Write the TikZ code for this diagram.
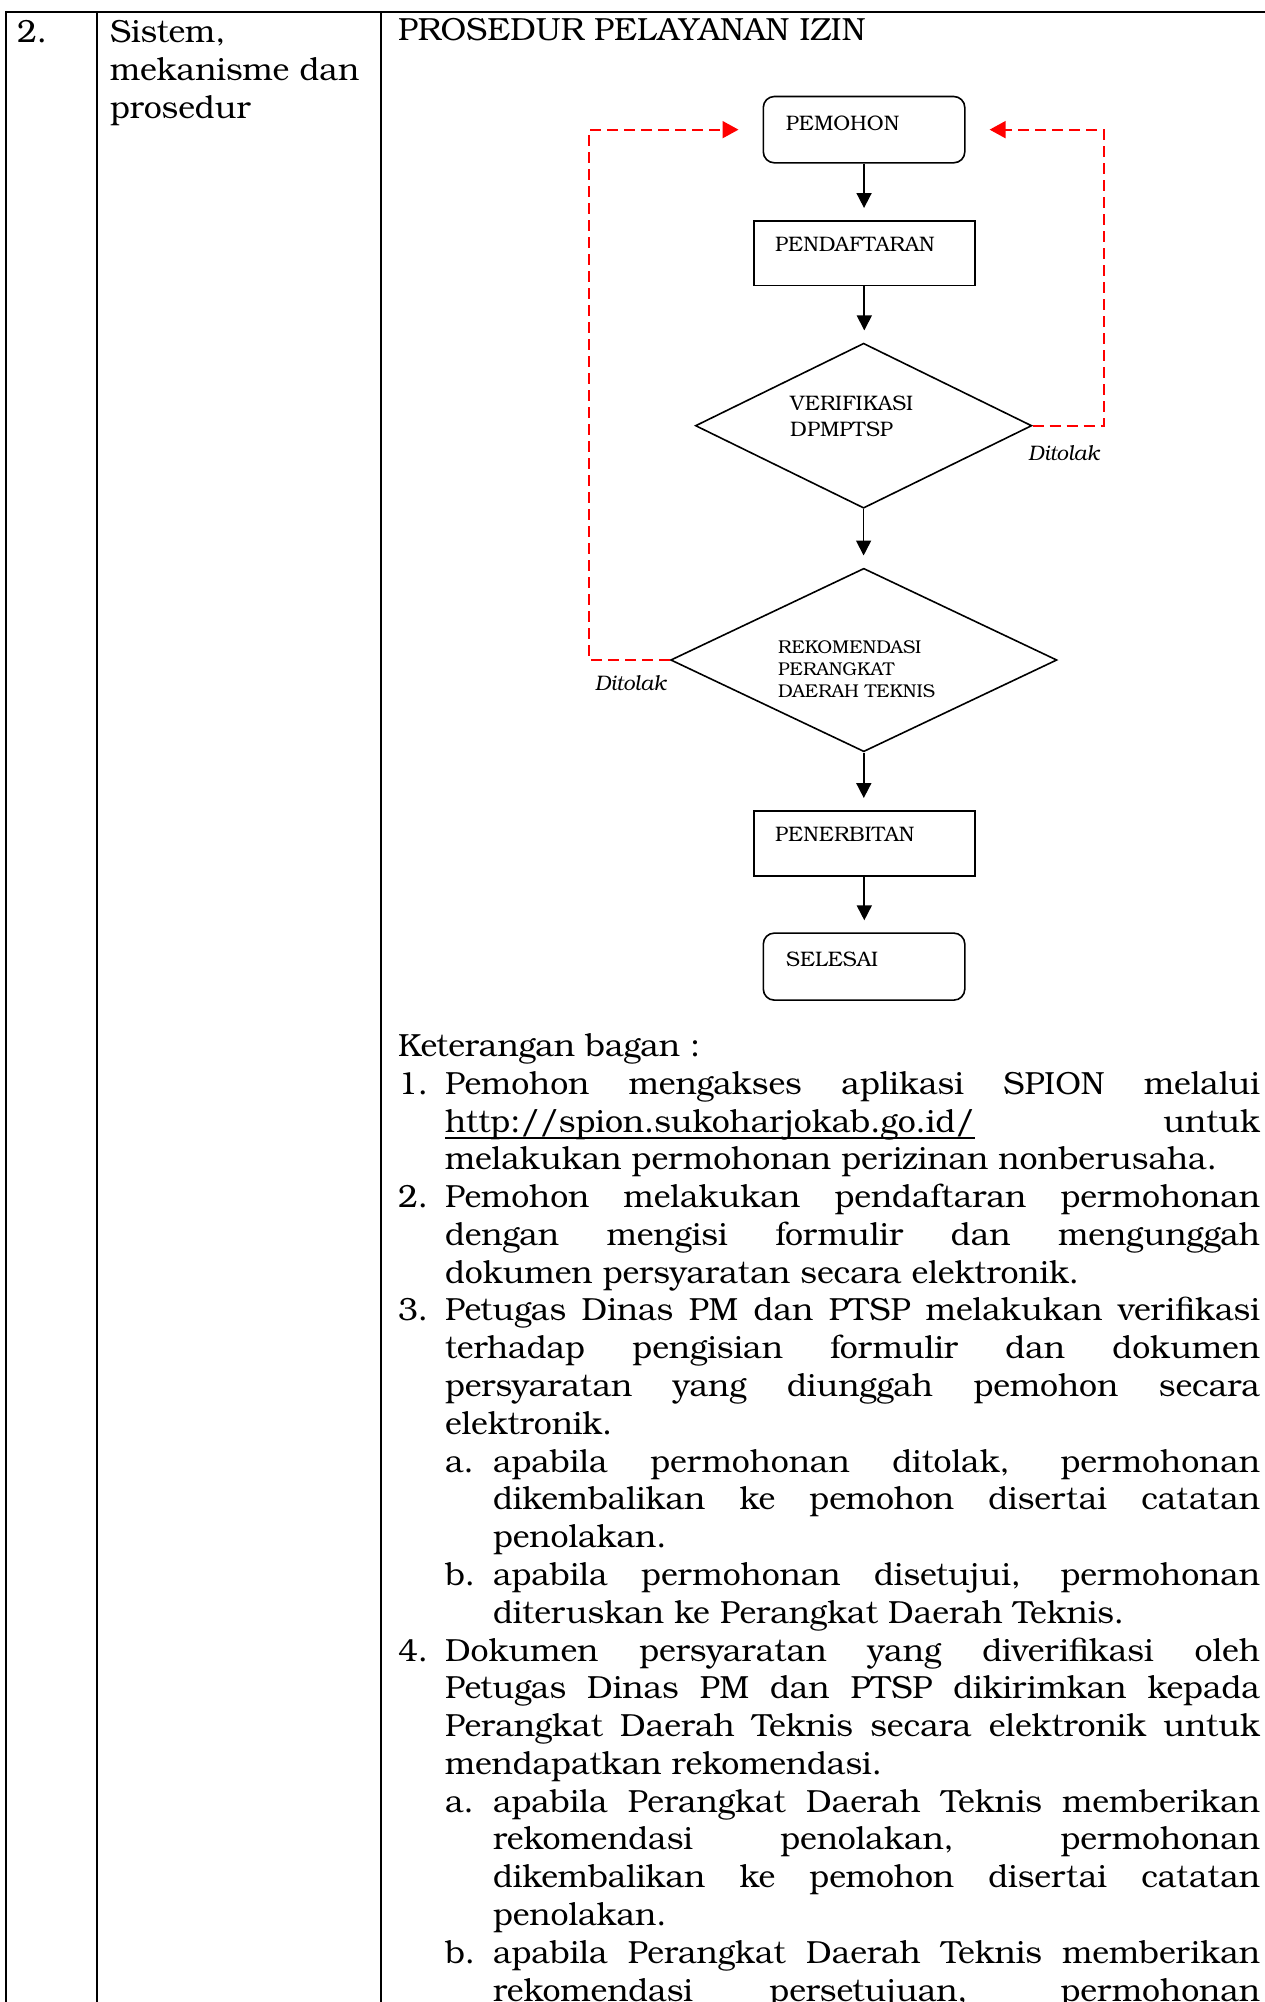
\documentclass[tikz,border=0pt]{standalone}
\usepackage{fontspec}
\setmainfont{texgyrebonum-regular.otf}[ItalicFont=texgyrebonum-italic.otf,BoldFont=texgyrebonum-bold.otf,BoldItalicFont=texgyrebonum-bolditalic.otf]
\usetikzlibrary{shapes.geometric,arrows.meta}
% baseline of the k-th line of the legend
\newcommand\ly[1]{1056.5+37.78*#1}
% a justified line of given width
\newcommand\jl[2]{\makebox[#1][s]{#2}}

\begin{document}
\begin{tikzpicture}[x=1pt,y=-1pt,
  body/.style={font=\fontsize{32}{37.78}\selectfont},
  txt/.style={anchor=base west, inner sep=0pt, outer sep=0pt, body},
  txtr/.style={txt, anchor=base east},
  rule/.style={line width=2pt, black},
  boxlbl/.style={anchor=base west, inner sep=0pt, font=\fontsize{21}{26}\selectfont},
  smalllbl/.style={anchor=base west, inner sep=0pt, font=\fontsize{18.5}{22}\selectfont},
  notelbl/.style={anchor=base west, inner sep=0pt, font=\fontsize{21}{26}\selectfont\itshape},
  proc/.style={draw, line width=1.6pt, inner sep=0pt, anchor=north west},
  term/.style={proc, rounded corners=11pt},
  decide/.style={draw, diamond, line width=1.6pt, inner sep=0pt},
  flow/.style={line width=1.7pt, -{Triangle[length=15pt,width=15pt]}, shorten >=12pt},
  reject/.style={red, line width=1.9pt, dash pattern=on 11pt off 6pt,
                 -{Triangle[length=16pt,width=17pt]}, shorten >=24pt},
  ]
\useasboundingbox (0,0) rectangle (1264,2002);
\fill[white] (0,0) rectangle (1264,2002);

% table rules
\draw[rule] (6,12) -- (1270,12);
\draw[rule] (6,11) -- (6,2010);
\draw[rule] (96.7,12) -- (96.7,2010);
\draw[rule] (381,12) -- (381,2010);

% header cells
\node[txt] (num) at (17,43) {2.};
\node[txt] (h1) at (110,43) {Sistem,};
\node[txt] (h2) at (110,80.8) {mekanisme dan};
\node[txt] (h3) at (110,118.6) {prosedur};
\node[txt] (title) at (398,41) {PROSEDUR PELAYANAN IZIN};

% flowchart shapes
\node[term, minimum width=201.5pt, minimum height=66.3pt] (pemohon) at (762.5,95.7) {};
\node[proc, minimum width=221pt, minimum height=64.7pt] (daftar) at (753,220) {};
\node[decide, minimum width=336.4pt, minimum height=165pt] (verif) at (863.6,425.7) {};
\node[decide, minimum width=386.3pt, minimum height=183.4pt] (rekom) at (863.8,660) {};
\node[proc, minimum width=221pt, minimum height=65pt] (terbit) at (753,810) {};
\node[term, minimum width=201.5pt, minimum height=67pt] (selesai) at (762.5,932.3) {};

% flowchart texts
\node[boxlbl] (tPemohon) at (785.7,130) {PEMOHON};
\node[boxlbl] (tDaftar) at (775,251.7) {PENDAFTARAN};
\node[boxlbl] (tVerA) at (790,410) {VERIFIKASI};
\node[boxlbl] (tVerB) at (790,436.7) {DPMPTSP};
\node[smalllbl] (tRekA) at (778,653) {REKOMENDASI};
\node[smalllbl] (tRekB) at (778,675) {PERANGKAT};
\node[smalllbl] (tRekC) at (778,697) {DAERAH TEKNIS};
\node[boxlbl] (tTerbit) at (775,841.7) {PENERBITAN};
\node[boxlbl] (tSelesai) at (786,966) {SELESAI};

% main flow
\draw[flow] (pemohon.south) -- (pemohon.south |- daftar.north);
\draw[flow] (daftar.south) -- (daftar.south |- verif.north);
\draw[flow] (verif.south) -- (verif.south |- rekom.north);
\draw[flow] (rekom.south) -- (rekom.south |- terbit.north);
\draw[flow] (terbit.south) -- (terbit.south |- selesai.north);

% rejection loops back to the applicant
\coordinate (lbend) at (589.3,660);
\coordinate (rbend) at (1103.6,425.7);
\draw[reject] (rekom.west) -- (lbend) |- (pemohon.west);
\draw[reject] (verif.east) -- (rbend) |- (pemohon.east);
\node[notelbl] (dRight) at (1028,460) {Ditolak};
\node[notelbl] (dLeft) at (594.6,690) {Ditolak};

% legend
\node[txt] (l0) at (398,{\ly{0}}) {Keterangan bagan :};

\node[txt] (n1) at (398,{\ly{1}}) {1.};
\node[txt] (l1) at (445,{\ly{1}}) {\jl{815pt}{Pemohon mengakses aplikasi SPION melalui}};
\node[txt] (url) at (445,{\ly{2}}) {http://spion.sukoharjokab.go.id/};
\draw[line width=1.5pt] ([yshift=-6pt]url.base west) -- ([yshift=-6pt]url.base east);
\node[txtr] (l2) at (1260,{\ly{2}}) {untuk};
\node[txt] (l3) at (445,{\ly{3}}) {melakukan permohonan perizinan nonberusaha.};

\node[txt] (n2) at (398,{\ly{4}}) {2.};
\node[txt] (l4) at (445,{\ly{4}}) {\jl{815pt}{Pemohon melakukan pendaftaran permohonan}};
\node[txt] (l5) at (445,{\ly{5}}) {\jl{815pt}{dengan mengisi formulir dan mengunggah}};
\node[txt] (l6) at (445,{\ly{6}}) {dokumen persyaratan secara elektronik.};

\node[txt] (n3) at (398,{\ly{7}}) {3.};
\node[txt] (l7) at (445,{\ly{7}}) {\jl{815pt}{Petugas Dinas PM dan PTSP melakukan verifikasi}};
\node[txt] (l8) at (445,{\ly{8}}) {\jl{815pt}{terhadap pengisian formulir dan dokumen}};
\node[txt] (l9) at (445,{\ly{9}}) {\jl{815pt}{persyaratan yang diunggah pemohon secara}};
\node[txt] (l10) at (445,{\ly{10}}) {elektronik.};

\node[txt] (s3a) at (445,{\ly{11}}) {a.};
\node[txt] (l11) at (493,{\ly{11}}) {\jl{767pt}{apabila permohonan ditolak, permohonan}};
\node[txt] (l12) at (493,{\ly{12}}) {\jl{767pt}{dikembalikan ke pemohon disertai catatan}};
\node[txt] (l13) at (493,{\ly{13}}) {penolakan.};
\node[txt] (s3b) at (445,{\ly{14}}) {b.};
\node[txt] (l14) at (493,{\ly{14}}) {\jl{767pt}{apabila permohonan disetujui, permohonan}};
\node[txt] (l15) at (493,{\ly{15}}) {diteruskan ke Perangkat Daerah Teknis.};

\node[txt] (n4) at (398,{\ly{16}}) {4.};
\node[txt] (l16) at (445,{\ly{16}}) {\jl{815pt}{Dokumen persyaratan yang diverifikasi oleh}};
\node[txt] (l17) at (445,{\ly{17}}) {\jl{815pt}{Petugas Dinas PM dan PTSP dikirimkan kepada}};
\node[txt] (l18) at (445,{\ly{18}}) {\jl{815pt}{Perangkat Daerah Teknis secara elektronik untuk}};
\node[txt] (l19) at (445,{\ly{19}}) {mendapatkan rekomendasi.};

\node[txt] (s4a) at (445,{\ly{20}}) {a.};
\node[txt] (l20) at (493,{\ly{20}}) {\jl{767pt}{apabila Perangkat Daerah Teknis memberikan}};
\node[txt] (l21) at (493,{\ly{21}}) {\jl{767pt}{rekomendasi penolakan, permohonan}};
\node[txt] (l22) at (493,{\ly{22}}) {\jl{767pt}{dikembalikan ke pemohon disertai catatan}};
\node[txt] (l23) at (493,{\ly{23}}) {penolakan.};
\node[txt] (s4b) at (445,{\ly{24}}) {b.};
\node[txt] (l24) at (493,{\ly{24}}) {\jl{767pt}{apabila Perangkat Daerah Teknis memberikan}};
\node[txt] (l25) at (493,{\ly{25}}) {\jl{767pt}{rekomendasi persetujuan, permohonan}};
\end{tikzpicture}
\end{document}
